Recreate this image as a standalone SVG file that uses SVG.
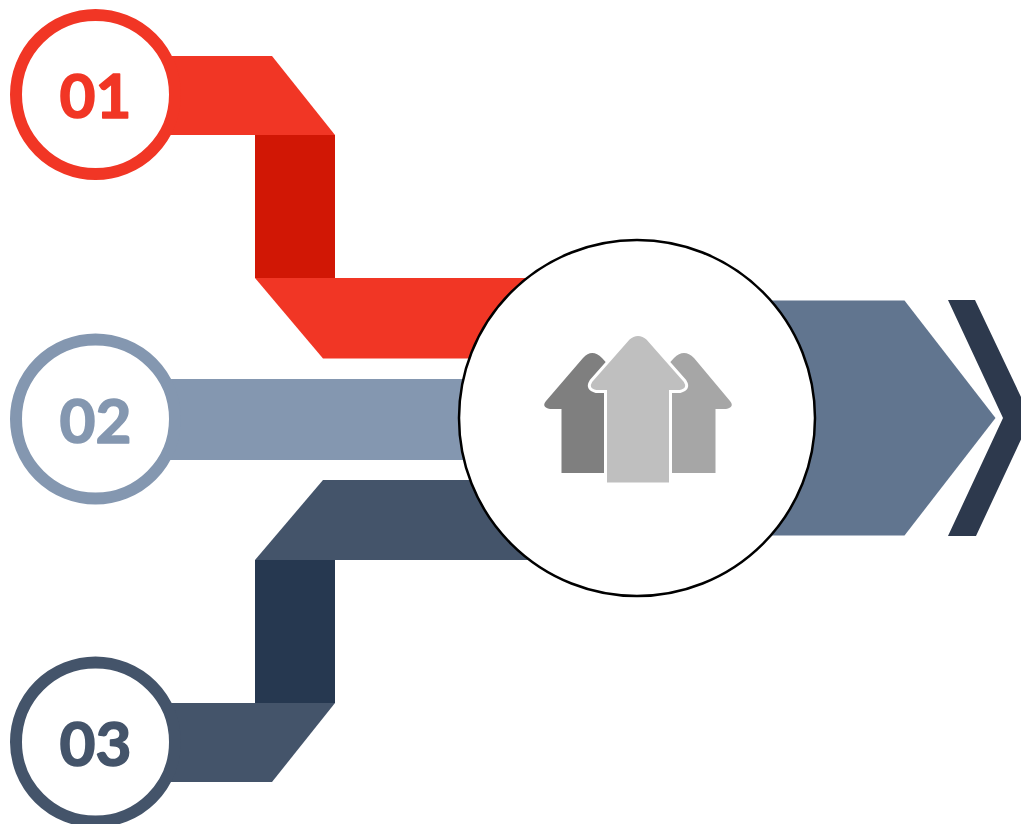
<svg xmlns="http://www.w3.org/2000/svg" width="1021" height="824" viewBox="0 0 1021 824">
<style>
.ring{fill:#fff;stroke-width:12}
.num{font-family:"Lato","Liberation Sans",sans-serif;font-weight:700;font-size:62px;text-anchor:middle;stroke-width:1.600;stroke-linejoin:round}
.red{fill:#F13625}.redd{fill:#D11705}.blue{fill:#8497B0}.navy{fill:#44546A}.navyd{fill:#263850}
</style>
<rect width="1021" height="824" fill="#fff"/>
<g id="connectors">
<path class="red" d="M160 56H272L335 135H160Z"/>
<rect class="redd" x="255" y="135" width="80" height="143"/>
<path class="red" d="M255 278H540V358.500H323Z"/>
<rect class="blue" x="160" y="379" width="320" height="81"/>
<path class="navy" d="M323 480H540V560H255Z"/>
<rect class="navyd" x="255" y="560" width="80" height="143"/>
<path class="navy" d="M160 703H335L272 782H160Z"/>
</g>
<g id="output-arrow">
<path fill="#61758F" d="M740 300.500H904.500L995.500 418L904.500 535.500H740Z"/>
<path fill="#2D394D" d="M948 300H975L1031 418L976 536H948L1003 418Z"/>
</g>
<g id="node-01"><circle class="ring" cx="95.500" cy="94.500" r="79.500" stroke="#F13625"/><text class="num" x="95.500" y="118" fill="#F13625" stroke="#F13625">01</text></g>
<g id="node-02"><circle class="ring" cx="95.500" cy="419" r="79.500" stroke="#8497B0"/><text class="num" x="95.500" y="443" fill="#8497B0" stroke="#8497B0">02</text></g>
<g id="node-03"><circle class="ring" cx="95.500" cy="742" r="79.500" stroke="#44546A"/><text class="num" x="95.500" y="766" fill="#44546A" stroke="#44546A">03</text></g>
<g id="hub">
<circle cx="637" cy="418" r="178" fill="#fff" stroke="#000" stroke-width="2.500"/>
<path fill="#7F7F7F" d="M561.500 473V409H550Q541 407 546 401L583 358Q592 348 602 358L622 380V473Z"/>
<path fill="#A6A6A6" d="M715.500 473V409H726Q735 407 730 401L694 358Q684 348 674 358L654 380V473Z"/>
<path fill="#BFBFBF" stroke="#fff" stroke-width="3" d="M605.500 484V391.500H596Q586 389 591 381L628 339Q638 330 648 339L685 381Q690 389 680 391.500H670.500V484Z"/>
</g>
</svg>
